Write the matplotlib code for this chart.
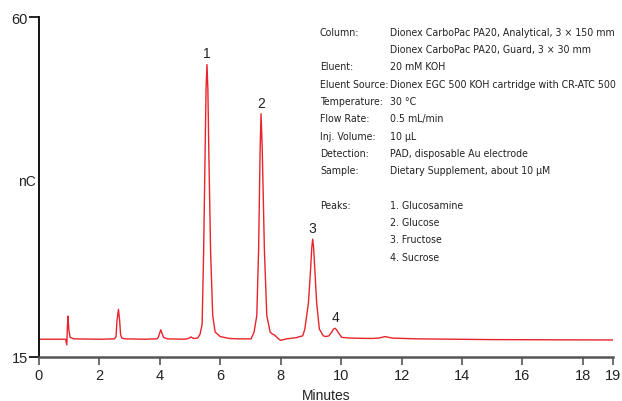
import matplotlib.pyplot as plt
import matplotlib.font_manager as fm

# chromatogram trace (minutes, nC)
times = [0.00, 0.50, 0.88, 0.92, 0.94, 0.96, 0.99, 1.03, 1.15, 2.00, 2.50, 2.55, 2.58, 2.63, 2.67, 2.70, 2.74, 2.85,
         3.50, 3.90, 3.95, 4.03, 4.12, 4.25, 4.80, 4.95, 5.03, 5.12, 5.25, 5.33, 5.40, 5.45, 5.50, 5.53, 5.56, 5.59,
         5.62, 5.68, 5.75, 5.83, 6.00, 6.30, 6.60, 7.02, 7.12, 7.21, 7.27, 7.32, 7.35, 7.39, 7.46, 7.54, 7.65, 7.72,
         7.80, 7.90, 8.00, 8.20, 8.50, 8.73, 8.80, 8.92, 8.99, 9.03, 9.06, 9.09, 9.13, 9.19, 9.28, 9.41, 9.50, 9.60,
         9.69, 9.75, 9.80, 9.85, 9.91, 10.02, 10.30, 11.00, 11.25, 11.45, 11.70, 12.50, 15.00, 19.00]
signal = [17.35, 17.35, 17.35, 16.60, 19.00, 20.40, 18.50, 17.60, 17.40, 17.35, 17.40, 17.70, 19.80, 21.30, 19.80, 18.00, 17.50, 17.40,
          17.35, 17.40, 17.60, 18.60, 17.60, 17.40, 17.35, 17.45, 17.65, 17.45, 17.50, 18.00, 19.30, 29.00, 42.50, 50.50, 53.70, 50.50,
          42.50, 29.00, 20.50, 18.30, 17.70, 17.45, 17.40, 17.40, 18.30, 20.50, 29.30, 42.50, 47.20, 42.50, 29.30, 20.50, 18.30, 18.05,
          17.90, 17.50, 17.20, 17.40, 17.55, 17.80, 18.70, 22.20, 26.60, 29.50, 30.60, 29.50, 26.60, 22.20, 18.70, 17.80, 17.70, 17.80,
          18.30, 18.70, 18.80, 18.60, 18.20, 17.60, 17.50, 17.45, 17.50, 17.70, 17.50, 17.40, 17.30, 17.25]

peak_ids = ['1', '2', '3', '4']
peak_times = [5.56, 7.35, 9.06, 9.80]
peak_tops = [53.7, 47.2, 30.6, 18.8]

xticks = [0, 2, 4, 6, 8, 10, 12, 14, 16, 18, 19]
yticks = [15, 60]

info_keys = ['Column:', '', 'Eluent:', 'Eluent Source:', 'Temperature:', 'Flow Rate:', 'Inj. Volume:',
             'Detection:', 'Sample:', '', 'Peaks:', '', '', '']
info_vals = ['Dionex CarboPac PA20, Analytical, 3 × 150 mm', 'Dionex CarboPac PA20, Guard, 3 × 30 mm',
             '20 mM KOH', 'Dionex EGC 500 KOH cartridge with CR-ATC 500', '30 °C', '0.5 mL/min', '10 µL',
             'PAD, disposable Au electrode', 'Dietary Supplement, about 10 µM', '',
             '1. Glucosamine', '2. Glucose', '3. Fructose', '4. Sucrose']

# the original uses a condensed face; take one if the box has it
narrow = [f for f in fm.fontManager.ttflist
          if 'Narrow' in f.name or 'Condensed' in f.name or f.stretch in ('condensed', 'semi-condensed')]
if narrow:
    info_font = dict(family=narrow[0].name, stretch=narrow[0].stretch, size=7.6)
else:
    info_font = dict(family='Liberation Sans', size=7.4)

plt.rcParams['font.family'] = ['Liberation Sans', 'DejaVu Sans']
txt = '#222222'

fig = plt.figure(figsize=(6.22, 4.02), dpi=100)
ax = fig.add_axes([0.0627, 0.1095, 0.9228, 0.8457])

ax.plot(times, signal, color='#e8232b', lw=1.0)

for lab, t, v in zip(peak_ids, peak_times, peak_tops):
    ax.annotate(lab, (t, v), xytext=(0, 3), textcoords='offset points',
                ha='center', va='bottom', fontsize=10, color=txt)

ax.set_xlim(0, 19)
ax.set_ylim(15, 60)
ax.set_xticks(xticks)
ax.set_yticks(yticks)
ax.tick_params(axis='both', labelsize=10.5, colors=txt, direction='out')
ax.tick_params(axis='x', length=6, width=1.2, color='#555555', pad=2)
ax.tick_params(axis='y', length=7, width=1.2, color='black', pad=1)
for s in ['top', 'right']:
    ax.spines[s].set_visible(False)
ax.spines['bottom'].set_color('#555555')
ax.spines['bottom'].set_linewidth(1.8)
ax.spines['left'].set_color('black')
ax.spines['left'].set_linewidth(1.3)

ax.set_xlabel('Minutes', fontsize=10, color=txt, labelpad=4)
fig.text(0.043, 0.548, 'nC', fontsize=10, color=txt, ha='center', va='center')

y0 = 32.7
step = 17.3
for i, (k, v) in enumerate(zip(info_keys, info_vals)):
    ypx = y0 + i * step
    fig.text(320 / 622, 1 - ypx / 402, k, color=txt, ha='left', va='center', **info_font)
    fig.text(390 / 622, 1 - ypx / 402, v, color=txt, ha='left', va='center', **info_font)

plt.savefig('out.png', dpi=100)
